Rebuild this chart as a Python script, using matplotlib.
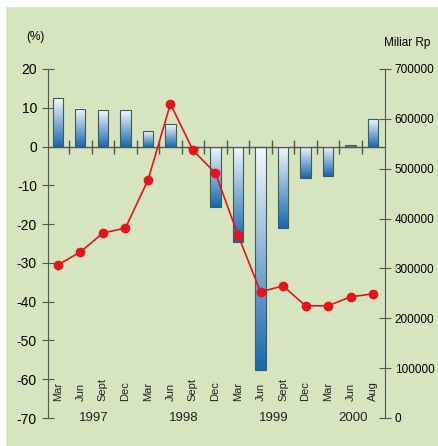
import matplotlib.pyplot as plt
import numpy as np
from matplotlib.patches import Rectangle

plt.rcParams['font.family'] = ['Liberation Sans', 'DejaVu Sans']
plt.rcParams['axes.unicode_minus'] = False

# data
months = ['Mar', 'Jun', 'Sept', 'Dec', 'Mar', 'Jun', 'Sept', 'Dec',
          'Mar', 'Jun', 'Sept', 'Dec', 'Mar', 'Jun', 'Aug']
years = ['1997', '1998', '1999', '2000']
year_pos = [1.6, 5.6, 9.6, 13.1]
growth = [12.4, 9.8, 9.3, 9.3, 4.1, 5.9, -0.5, -15.7, -24.7, -57.5,
          -20.9, -8.0, -7.7, 0.4, 7.2]          # bars, %
money = [307000, 333000, 371000, 381000, 477000, 630000, 537000, 491000,
         367000, 253000, 265000, 225000, 225000, 243000, 249000]  # line, Miliar Rp

green = '#d6e5bf'
axcol = '#555555'

fig = plt.figure(figsize=(4.39, 4.46), dpi=100, facecolor=green)
# white strips at top and left
fig.patches.append(Rectangle((0, 1 - 7 / 446), 1, 7 / 446, transform=fig.transFigure,
                             facecolor='white', edgecolor='none', zorder=-10))
fig.patches.append(Rectangle((0, 0), 6 / 439, 1, transform=fig.transFigure,
                             facecolor='white', edgecolor='none', zorder=-10))

ax = fig.add_axes([48 / 439, 1 - 418 / 446, (385 - 48) / 439, (418 - 69) / 446])
ax.set_facecolor('none')
x = np.arange(len(months))

# gradient bars
bars = ax.bar(x, growth, width=0.45, color='none', edgecolor='#3e5a5a', linewidth=0.8, zorder=3)
cmap = plt.matplotlib.colors.LinearSegmentedColormap.from_list('b', ['#f6f9fc', '#1767ad'])
grad = np.linspace(0, 1, 256).reshape(-1, 1)
for b in bars:
    x0, w = b.get_x(), b.get_width()
    y0, h = b.get_y(), b.get_height()
    top, bot = max(y0, y0 + h), min(y0, y0 + h)
    ax.imshow(grad, cmap=cmap, aspect='auto', extent=(x0, x0 + w, bot, top),
              origin='upper', zorder=2)
ax.set_xlim(-0.44, 14.53)
ax.set_ylim(-70, 20)

# zero line with category ticks
ax.axhline(0, color=axcol, linewidth=1.0, zorder=4)
ax.vlines(x[:-1] + 0.5, -1.8, 1.8, color=axcol, linewidth=1.0, zorder=4)

for s in ['top', 'bottom', 'right']:
    ax.spines[s].set_visible(False)
ax.spines['left'].set_color(axcol)
ax.set_xticks([])
ax.set_yticks(np.arange(-70, 21, 10))
ax.tick_params(axis='y', direction='inout', length=8, color=axcol, labelsize=10, pad=4)

for i, m in enumerate(months):
    ax.text(i, -65.5, m, rotation=90, ha='center', va='bottom', fontsize=8, color='#222222')
for p, yname in zip(year_pos, years):
    ax.text(p, -70, yname, ha='center', va='center', fontsize=9.5, color='#222222')

ax2 = ax.twinx()
ax2.set_ylim(0, 700000)
ax2.plot(x, money, color='#e3141c', linewidth=1.2, marker='o', markersize=6,
         markeredgecolor='#e3141c', zorder=5)
for s in ['top', 'bottom', 'left']:
    ax2.spines[s].set_visible(False)
ax2.spines['right'].set_color(axcol)
ax2.set_yticks(np.arange(0, 700001, 100000))
ax2.set_yticklabels([str(v) for v in range(0, 700001, 100000)])
ax2.tick_params(axis='y', direction='inout', length=8, color=axcol, labelsize=8.5, pad=3)

fig.text(35 / 439, 1 - 37 / 446, '(%)', ha='center', va='center', fontsize=8.5)
fig.text(407 / 439, 1 - 43 / 446, 'Miliar Rp', ha='center', va='center', fontsize=8.5)

fig.savefig('out.png', dpi=100, facecolor=fig.get_facecolor())
